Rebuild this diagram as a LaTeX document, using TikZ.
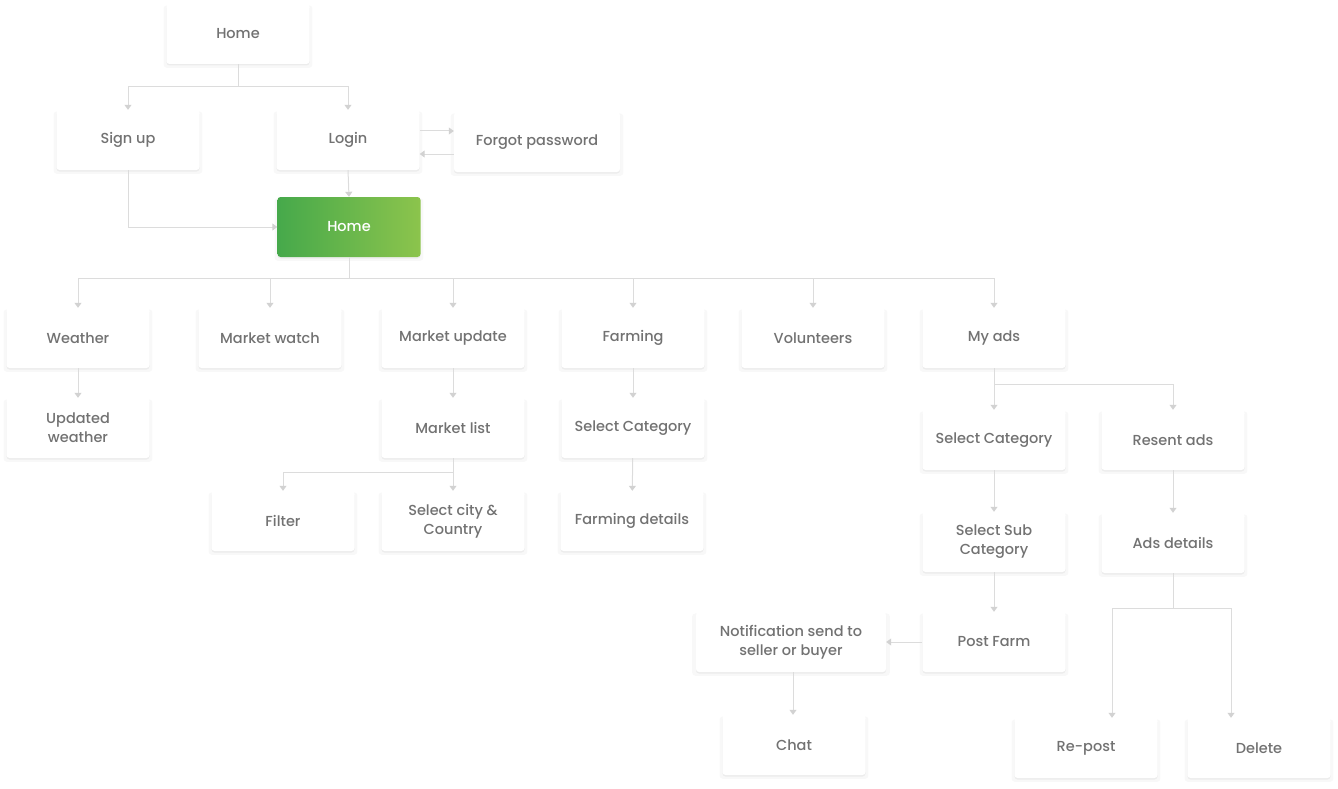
\documentclass[tikz,border=0pt]{standalone}
\usepackage{fontspec}
\setmainfont{Poppins Medium}
\usepackage{tikz}
\usetikzlibrary{arrows.meta}
\usetikzlibrary{shadows}
\usetikzlibrary{positioning}
\definecolor{fc-text}{HTML}{727272}
\definecolor{fc-line}{HTML}{DCDCDC}
\definecolor{fc-tip}{HTML}{D2D2D2}
\definecolor{fc-green1}{HTML}{46A94B}
\definecolor{fc-green2}{HTML}{8CC44C}

\begin{document}
\begin{tikzpicture}[x=1pt, y=-1pt,
        screen/.style={rectangle, rounded corners=3pt, fill=white, text=fc-text,
            minimum width=143pt, minimum height=60pt, align=center,
            font=\fontsize{14.5pt}{19pt}\selectfont,
            drop shadow={shadow xshift=0pt, shadow yshift=-2.5pt, opacity=.06, shadow scale=1.04},
            drop shadow={shadow xshift=0pt, shadow yshift=-1.5pt, opacity=.10}},
        mainscreen/.style={screen, left color=fc-green1, right color=fc-green2, text=white},
        link/.style={fc-line, line width=1pt, -{Triangle[width=7pt, length=5pt, fc-tip]}}]
        \useasboundingbox (0,0) rectangle (1338,789);
        % top level
        \node[screen] (home0) at (238,34) {Home};
        \node[screen] (signup) at (128,140) {Sign up};
        \node[screen] (login) at (348,140) {Login};
        \node[screen, minimum width=166pt] (forgot) at (537,142) {Forgot password};
        \node[mainscreen] (home) at (349,227) {Home};
        % second level
        \node[screen] (weather) at (78,338) {Weather};
        \node[screen] (mwatch) at (270,338) {Market watch};
        \node[screen] (mupdate) at (453,338) {Market update};
        \node[screen] (farming) at (633,338) {Farming};
        \node[screen] (volunteers) at (813,338) {Volunteers};
        \node[screen] (myads) at (994,338) {My ads};
        % third level
        \node[screen] (uweather) at (78,428) {Updated\\weather};
        \node[screen] (mlist) at (453,428) {Market list};
        \node[screen] (fcategory) at (633,428) {Select Category};
        \node[screen] (filter) at (283,521) {Filter};
        \node[screen] (city) at (453,521) {Select city \&\\Country};
        \node[screen] (fdetails) at (632,521) {Farming details};
        % my ads branch
        \node[screen] (acategory) at (994,440) {Select Category};
        \node[screen] (resent) at (1173,440) {Resent ads};
        \node[screen] (subcat) at (994,542) {Select Sub\\Category};
        \node[screen] (adsdet) at (1173,543) {Ads details};
        \node[screen] (postfarm) at (994,642) {Post Farm};
        \node[screen, minimum width=190pt] (notify) at (791,642) {Notification send to\\seller or buyer};
        \node[screen] (chat) at (794,745) {Chat};
        \node[screen] (repost) at (1086,748) {Re-post};
        \node[screen] (delete) at (1259,748) {Delete};

        % connectors
        \draw[link] (home0.south) -- ++(0,22) coordinate (hj) -| (signup.north);
        \draw[link] (hj) -| (login.north);
        \draw[link] ([yshift=9pt]login.east) -- ([yshift=9pt]login.east -| forgot.west);
        \draw[link] ([yshift=-14pt]login.east -| forgot.west) -- ([yshift=-14pt]login.east);
        \draw[link] (login.south) -- (home.north);
        \draw[link] (signup.south) |- (home.west);
        \draw[link] (home.south) -- ++(0,21) coordinate (mj) -| (weather.north);
        \foreach \n in {mwatch,mupdate,farming,volunteers,myads}
            \draw[link] (mj) -| (\n.north);
        \draw[link] (weather) -- (uweather);
        \draw[link] (mupdate) -- (mlist);
        \draw[link] (mlist.south) -- ++(0,14) coordinate (lj) -| (filter.north);
        \draw[link] (lj) -| (city.north);
        \draw[link] (farming) -- (fcategory);
        \draw[link] (fcategory) -- (fdetails);
        \draw[link] (myads.south) -- ++(0,16) coordinate (aj) -| (acategory.north);
        \draw[link] (aj) -| (resent.north);
        \draw[link] (acategory) -- (subcat);
        \draw[link] (subcat) -- (postfarm);
        \draw[link] (postfarm) -- (notify);
        \draw[link] ([xshift=2pt]notify.south) -- ([xshift=2pt]notify.south |- chat.north);
        \draw[link] (resent) -- (adsdet);
        \draw[link] (adsdet.south) -- ++(0,35) coordinate (dj) -| ([xshift=26pt]repost.north);
        \draw[link] (dj) -| ([xshift=-28pt]delete.north);
\end{tikzpicture}
\end{document}
